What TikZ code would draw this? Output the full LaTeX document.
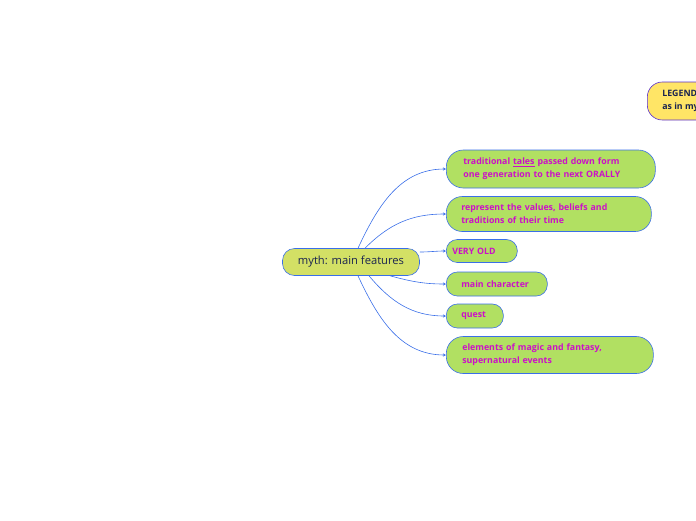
\documentclass[tikz,border=0pt]{standalone}
\usepackage{fontspec}
\setmainfont{Open Sans}
\usetikzlibrary{arrows.meta, positioning}

\definecolor{mapblue}{HTML}{3A6FE8}
\definecolor{mapnavy}{HTML}{1A2450}
\definecolor{mapmagenta}{HTML}{CC10C8}
\definecolor{topicfill}{HTML}{D3E065}
\definecolor{branchfill}{HTML}{B1E062}
\definecolor{legendfill}{HTML}{FFE566}
\definecolor{legendline}{HTML}{5A2FD0}

\begin{document}
\begin{tikzpicture}[x=1pt, y=-1pt,
  topic/.style  = {draw=mapblue, semithick, fill=topicfill, rounded corners=12pt,
                   minimum width=137pt, minimum height=27pt, text=mapnavy,
                   font=\fontsize{11.2}{13}\selectfont},
  branch/.style = {draw=mapblue, semithick, fill=branchfill, anchor=west,
                   align=left, inner xsep=0pt, text=mapmagenta,
                   font=\fontsize{8.8}{13}\selectfont\bfseries},
  legend/.style = {draw=legendline, semithick, fill=legendfill, rounded corners=15pt,
                   anchor=west, align=left, minimum height=38pt, inner xsep=15pt,
                   text=mapnavy, font=\fontsize{8.8}{13}\selectfont\bfseries},
  link/.style   = {mapblue, semithick, -{Stealth[length=3pt, width=3pt]}},
]
\clip (0,0) rectangle (696,520);

% central topic
\node[topic] (myth) at (351,262) {myth: main features};

% branches
\node[branch, rounded corners=17pt, minimum width=209pt, minimum height=38pt, text width=179pt]
  (tales) at (446,169) {\hspace*{2pt}traditional \underline{tales} passed down form\\\hspace*{2pt}one generation to the next ORALLY};
\node[branch, rounded corners=16pt, minimum width=205pt, minimum height=35pt, text width=175pt]
  (values) at (446,214) {represent the values, beliefs and\\traditions of their time};
\node[branch, rounded corners=11pt, minimum width=71pt, minimum height=23pt, text width=57pt]
  (old) at (446,251) {\hspace*{-1pt}VERY OLD};
\node[branch, rounded corners=11pt, minimum width=101pt, minimum height=24pt, text width=71pt]
  (hero) at (446,284) {main character};
\node[branch, rounded corners=11pt, minimum width=57pt, minimum height=24pt, text width=27pt]
  (quest) at (446,316) {quest};
\node[branch, rounded corners=17pt, minimum width=207pt, minimum height=37pt, text width=177pt]
  (magic) at (446,355) {\hspace*{1pt}elements of magic and fantasy,\\\hspace*{1pt}supernatural events};

% legend, cut by the right edge
\node[legend] (legend) at (647,101) {LEGEND\\as in myth};

% connectors
\draw[link] (myth.north) ++(7,0) to[out=65, in=180] (tales.west);
\draw[link] (myth.north) ++(14,0) to[out=45, in=180] (values.west);
\draw[link] (myth.east) ++(0,-10) to[out=0, in=180] (old.west);
\draw[link] (myth.south) ++(39,0) to[out=-15, in=180] (hero.west);
\draw[link] (myth.south) ++(18,0) to[out=-50, in=180] (quest.west);
\draw[link] (myth.south) ++(7,0) to[out=-65, in=180] (magic.west);
\end{tikzpicture}
\end{document}
